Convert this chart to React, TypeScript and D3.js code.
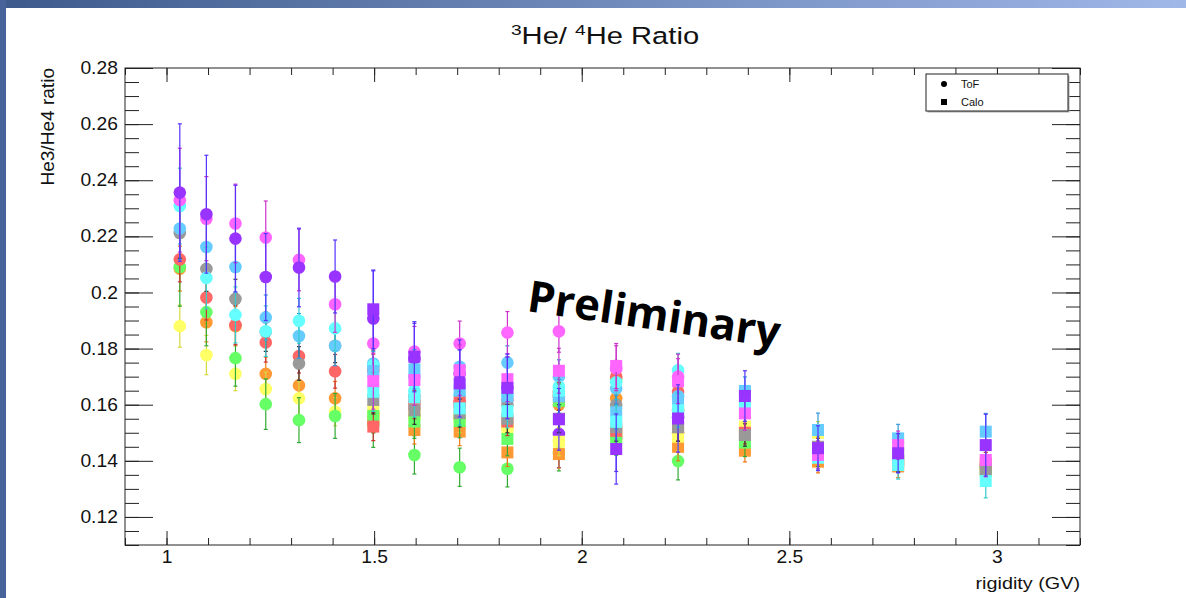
import React, { useEffect, useRef } from 'react';
import * as d3 from 'd3';

const width = 1186;
const height = 598;

// rigidity bin centres (GV)
const rigidity = [1.032, 1.096, 1.166, 1.239, 1.319, 1.406, 1.498, 1.597, 1.706, 1.821, 1.945, 2.083, 2.232, 2.393, 2.569, 2.762, 2.973];
const tofBins = rigidity.slice(0, 13);
const caloBins = rigidity.slice(6);

const xTicks = [1, 1.5, 2, 2.5, 3];
const xTickLabels = ['1', '1.5', '2', '2.5', '3'];
const yTicks = [0.12, 0.14, 0.16, 0.18, 0.2, 0.22, 0.24, 0.26, 0.28];
const yTickLabels = ['0.12', '0.14', '0.16', '0.18', '0.2', '0.22', '0.24', '0.26', '0.28'];

// ToF (circles)
const tofPurple = [0.2356, 0.2279, 0.2192, 0.2055, 0.2089, 0.2057, 0.1907, 0.1765, 0.1711, 0.166, 0.1496, 0.1482, 0.1555];
const tofMagenta = [0.2329, 0.2263, 0.2246, 0.2196, 0.2116, 0.1958, 0.1818, 0.1789, 0.1818, 0.1857, 0.1862, 0.173, 0.17];
const tofCyan = [0.2308, 0.2052, 0.192, 0.1862, 0.1899, 0.1872, 0.174, 0.165, 0.1634, 0.163, 0.1664, 0.168, 0.1723];
const tofLightBlue = [0.2228, 0.2162, 0.2091, 0.1911, 0.1845, 0.1809, 0.1747, 0.17, 0.1735, 0.175, 0.17, 0.1658, 0.163];
const tofGray = [0.2212, 0.2084, 0.1977, 0.186, 0.1747, 0.181, 0.1735, 0.163, 0.16, 0.16, 0.163, 0.16, 0.158];
const tofRed = [0.2118, 0.1982, 0.1884, 0.1822, 0.1773, 0.1719, 0.172, 0.161, 0.161, 0.1617, 0.1646, 0.17, 0.1646];
const tofOrange = [0.2085, 0.1894, 0.188, 0.171, 0.1669, 0.1623, 0.157, 0.156, 0.155, 0.152, 0.16, 0.1623, 0.15];
const tofYellow = [0.188, 0.1777, 0.171, 0.1656, 0.1623, 0.1575, 0.156, 0.155, 0.156, 0.152, 0.147, 0.1486, 0.15];
const tofGreen = [0.2091, 0.193, 0.1766, 0.1602, 0.1545, 0.156, 0.1528, 0.1421, 0.1377, 0.1372, 0.1429, 0.1688, 0.1399];

const tofPurpleErr = [0.0245, 0.021, 0.019, 0.0155, 0.014, 0.013, 0.017, 0.0125, 0.012, 0.012, 0.012, 0.012, 0.012];
const tofMagentaErr = [0.0185, 0.015, 0.014, 0.013, 0.011, 0.01, 0.01, 0.009, 0.008, 0.0075, 0.0075, 0.008, 0.008];
const tofCyanErr = [0.0135, 0.011, 0.01, 0.009, 0.008, 0.008, 0.008, 0.007, 0.007, 0.006, 0.006, 0.006, 0.006];
const tofLightBlueErr = [0.011, 0.01, 0.009, 0.008, 0.008, 0.007, 0.007, 0.007, 0.006, 0.006, 0.006, 0.006, 0.006];
const tofGrayErr = [0.009, 0.008, 0.007, 0.007, 0.006, 0.006, 0.006, 0.005, 0.005, 0.005, 0.005, 0.005, 0.005];
const tofRedErr = [0.008, 0.008, 0.007, 0.007, 0.006, 0.006, 0.006, 0.005, 0.005, 0.005, 0.005, 0.005, 0.005];
const tofOrangeErr = [0.008, 0.007, 0.007, 0.006, 0.006, 0.006, 0.005, 0.005, 0.005, 0.005, 0.005, 0.005, 0.005];
const tofYellowErr = [0.0075, 0.007, 0.006, 0.006, 0.006, 0.005, 0.005, 0.005, 0.005, 0.005, 0.005, 0.005, 0.005];
const tofGreenErr = [0.014, 0.012, 0.01, 0.009, 0.008, 0.008, 0.008, 0.0068, 0.0068, 0.0065, 0.0065, 0.007, 0.0067];

// Calo (squares)
const caloPurple = [0.194, 0.1771, 0.1676, 0.166, 0.1548, 0.1442, 0.1551, 0.1631, 0.1445, 0.1427, 0.1456];
const caloMagenta = [0.1684, 0.1688, 0.1723, 0.1691, 0.1721, 0.1738, 0.1684, 0.1569, 0.1421, 0.1456, 0.1403];
const caloCyan = [0.1646, 0.1626, 0.1587, 0.1577, 0.165, 0.1539, 0.158, 0.159, 0.1411, 0.1385, 0.1328];
const caloLightBlue = [0.172, 0.1726, 0.165, 0.163, 0.163, 0.1573, 0.1617, 0.1649, 0.151, 0.148, 0.1504];
const caloGray = [0.1617, 0.158, 0.157, 0.155, 0.155, 0.152, 0.152, 0.1492, 0.145, 0.14, 0.137];
const caloRed = [0.1522, 0.16, 0.161, 0.154, 0.163, 0.1507, 0.152, 0.15, 0.144, 0.14, 0.139];
const caloOrange = [0.155, 0.151, 0.1504, 0.143, 0.1424, 0.15, 0.145, 0.1436, 0.1397, 0.138, 0.137];
const caloYellow = [0.158, 0.1569, 0.155, 0.152, 0.1468, 0.149, 0.1486, 0.1522, 0.15, 0.145, 0.139];
const caloGreen = [0.156, 0.154, 0.1542, 0.1478, 0.1614, 0.148, 0.158, 0.1465, 0.143, 0.141, 0.1364];

const caloPurpleErr = [0.014, 0.0125, 0.012, 0.011, 0.011, 0.0125, 0.012, 0.009, 0.008, 0.007, 0.011];
const caloMagentaErr = [0.01, 0.009, 0.009, 0.008, 0.008, 0.008, 0.008, 0.006, 0.005, 0.005, 0.006];
const caloCyanErr = [0.007, 0.007, 0.006, 0.006, 0.006, 0.006, 0.006, 0.005, 0.004, 0.005, 0.006];
const caloLightBlueErr = [0.007, 0.007, 0.006, 0.006, 0.006, 0.006, 0.006, 0.005, 0.006, 0.005, 0.0065];
const caloGrayErr = [0.005, 0.005, 0.005, 0.005, 0.005, 0.005, 0.005, 0.004, 0.004, 0.004, 0.004];
const caloRedErr = [0.005, 0.005, 0.005, 0.005, 0.005, 0.005, 0.005, 0.004, 0.004, 0.004, 0.004];
const caloOrangeErr = [0.005, 0.005, 0.005, 0.005, 0.005, 0.005, 0.005, 0.004, 0.004, 0.004, 0.004];
const caloYellowErr = [0.005, 0.005, 0.005, 0.005, 0.005, 0.005, 0.005, 0.004, 0.004, 0.004, 0.004];
const caloGreenErr = [0.006, 0.006, 0.006, 0.006, 0.006, 0.006, 0.006, 0.005, 0.005, 0.005, 0.005];

// drawing order: last one ends on top
const series = [
  { fill: '#ff9933', bar: '#ee7711', tof: tofOrange, tofErr: tofOrangeErr, calo: caloOrange, caloErr: caloOrangeErr },
  { fill: '#ffff66', bar: '#d8d840', tof: tofYellow, tofErr: tofYellowErr, calo: caloYellow, caloErr: caloYellowErr },
  { fill: '#66ff66', bar: '#33aa33', tof: tofGreen, tofErr: tofGreenErr, calo: caloGreen, caloErr: caloGreenErr },
  { fill: '#ff6666', bar: '#cc3333', tof: tofRed, tofErr: tofRedErr, calo: caloRed, caloErr: caloRedErr },
  { fill: '#999999', bar: '#333333', tof: tofGray, tofErr: tofGrayErr, calo: caloGray, caloErr: caloGrayErr },
  { fill: '#66ccff', bar: '#3399dd', tof: tofLightBlue, tofErr: tofLightBlueErr, calo: caloLightBlue, caloErr: caloLightBlueErr },
  { fill: '#66ffff', bar: '#33cccc', tof: tofCyan, tofErr: tofCyanErr, calo: caloCyan, caloErr: caloCyanErr },
  { fill: '#ff66ff', bar: '#cc33cc', tof: tofMagenta, tofErr: tofMagentaErr, calo: caloMagenta, caloErr: caloMagentaErr },
  { fill: '#9933ff', bar: '#5533ff', tof: tofPurple, tofErr: tofPurpleErr, calo: caloPurple, caloErr: caloPurpleErr },
];

const FONT = '"Liberation Sans", Arial, Helvetica, sans-serif';

export default function App() {
  const ref = useRef<SVGSVGElement>(null);

  useEffect(() => {
    const svg = d3.select(ref.current);
    svg.selectAll('*').remove();

    const left = 125, right = 1080, top = 68, bottom = 545;

    const x = d3.scaleLinear().domain([0.9, 3.2]).range([left, right]);
    const y = d3.scaleLinear().domain([0.11, 0.28]).range([bottom, top]);

    // slide decoration
    const defs = svg.append('defs');
    const grad = defs.append('linearGradient').attr('id', 'bar').attr('x1', 0).attr('x2', 1).attr('y1', 0).attr('y2', 0);
    grad.append('stop').attr('offset', '0%').attr('stop-color', '#3e5a8c');
    grad.append('stop').attr('offset', '100%').attr('stop-color', '#9fb8e8');
    svg.append('rect').attr('width', width).attr('height', height).attr('fill', '#fff');
    svg.append('rect').attr('width', width).attr('height', 8).attr('fill', 'url(#bar)');
    svg.append('rect').attr('width', 6).attr('height', height).attr('fill', '#48639a');

    // axes with ROOT style ticks (inside, mirrored)
    const yMinor = d3.range(0.11, 0.2801, 0.005);
    const xMinor = d3.range(0.9, 3.2001, 0.1);

    const styleAxis = (g: any) => {
      g.select('.domain').remove();
      g.selectAll('line').attr('stroke', '#222').attr('stroke-width', 1);
      g.selectAll('text').attr('font-family', FONT).attr('font-size', 17.5).attr('fill', '#111')
        .attr('transform', 'scale(1.1,1)');
    };

    svg.append('g').attr('transform', `translate(${left},0)`)
      .call(d3.axisLeft(y).tickValues(yMinor).tickSize(-14).tickFormat(() => '')).call(styleAxis);
    svg.append('g').attr('transform', `translate(${left},0)`)
      .call(d3.axisLeft(y).tickValues(yTicks).tickSize(-28).tickPadding(6.5)
        .tickFormat((d, i) => yTickLabels[i])).call(styleAxis);
    svg.append('g').attr('transform', `translate(${right},0)`)
      .call(d3.axisRight(y).tickValues(yMinor).tickSize(-14).tickFormat(() => '')).call(styleAxis);
    svg.append('g').attr('transform', `translate(${right},0)`)
      .call(d3.axisRight(y).tickValues(yTicks).tickSize(-28).tickFormat(() => '')).call(styleAxis);

    svg.append('g').attr('transform', `translate(0,${bottom})`)
      .call(d3.axisBottom(x).tickValues(xMinor).tickSize(-7).tickFormat(() => '')).call(styleAxis);
    svg.append('g').attr('transform', `translate(0,${bottom})`)
      .call(d3.axisBottom(x).tickValues(xTicks).tickSize(-14).tickPadding(6)
        .tickFormat((d, i) => xTickLabels[i])).call(styleAxis);
    svg.append('g').attr('transform', `translate(0,${top})`)
      .call(d3.axisTop(x).tickValues(xMinor).tickSize(-7).tickFormat(() => '')).call(styleAxis);
    svg.append('g').attr('transform', `translate(0,${top})`)
      .call(d3.axisTop(x).tickValues(xTicks).tickSize(-14).tickFormat(() => '')).call(styleAxis);

    svg.append('rect')
      .attr('x', left).attr('y', top).attr('width', right - left).attr('height', bottom - top)
      .attr('fill', 'none').attr('stroke', '#222').attr('stroke-width', 1);

    // data
    const plot = svg.append('g');
    const drawErrors = (g: any, bins: number[], vals: number[], errs: number[], color: string) => {
      vals.forEach((v, i) => {
        const cx = x(bins[i]);
        const y0 = y(v - errs[i]);
        const y1 = y(v + errs[i]);
        g.append('line').attr('x1', cx).attr('x2', cx).attr('y1', y0).attr('y2', y1)
          .attr('stroke', color).attr('stroke-width', 1.2);
        [y0, y1].forEach((yy) => {
          g.append('line').attr('x1', cx - 2).attr('x2', cx + 2).attr('y1', yy).attr('y2', yy)
            .attr('stroke', color).attr('stroke-width', 1.2);
        });
      });
    };

    series.forEach((s) => {
      const g = plot.append('g');
      drawErrors(g, tofBins, s.tof, s.tofErr, s.bar);
      g.selectAll('circle.tof').data(s.tof).enter().append('circle')
        .attr('cx', (d: number, i: number) => x(tofBins[i]))
        .attr('cy', (d: number) => y(d))
        .attr('r', 6.3).attr('fill', s.fill);
    });
    series.forEach((s) => {
      const g = plot.append('g');
      drawErrors(g, caloBins, s.calo, s.caloErr, s.bar);
      g.selectAll('rect.calo').data(s.calo).enter().append('rect')
        .attr('x', (d: number, i: number) => x(caloBins[i]) - 6)
        .attr('y', (d: number) => y(d) - 6)
        .attr('width', 12).attr('height', 12).attr('fill', s.fill);
    });

    // title
    const title = svg.append('text').attr('transform', 'translate(605,43.5) scale(1.24,1)')
      .attr('text-anchor', 'middle')
      .attr('font-family', FONT).attr('font-size', 23.5).attr('fill', '#111');
    title.append('tspan').attr('font-size', 15.5).attr('dy', -9).text('3');
    title.append('tspan').attr('dy', 9).text('He/ ');
    title.append('tspan').attr('font-size', 15.5).attr('dy', -9).text('4');
    title.append('tspan').attr('dy', 9).text('He Ratio');

    // axis titles
    svg.append('text').attr('transform', `translate(53.5,${top}) rotate(-90) scale(1.06,1)`).attr('text-anchor', 'end')
      .attr('font-family', FONT).attr('font-size', 18).attr('fill', '#111').text('He3/He4 ratio');
    svg.append('text').attr('transform', `translate(${right},589) scale(1.2,1)`).attr('text-anchor', 'end')
      .attr('font-family', FONT).attr('font-size', 16.5).attr('fill', '#111').text('rigidity (GV)');

    // legend
    const lg = svg.append('g');
    lg.append('rect').attr('x', 927.5).attr('y', 75.5).attr('width', 142).attr('height', 37).attr('fill', '#aaa');
    lg.append('rect').attr('x', 926).attr('y', 74).attr('width', 142).attr('height', 37)
      .attr('fill', '#fff').attr('stroke', '#222').attr('stroke-width', 1);
    lg.append('circle').attr('cx', 944).attr('cy', 84).attr('r', 3).attr('fill', '#000');
    lg.append('rect').attr('x', 941).attr('y', 99).attr('width', 6).attr('height', 6).attr('fill', '#000');
    lg.append('text').attr('x', 961).attr('y', 88).attr('font-family', FONT).attr('font-size', 11).attr('fill', '#111').text('ToF');
    lg.append('text').attr('x', 961).attr('y', 106).attr('font-family', FONT).attr('font-size', 11).attr('fill', '#111').text('Calo');

    // watermark
    svg.append('text').attr('transform', 'translate(526,311) rotate(8.3)')
      .attr('font-family', '"Open Sans", sans-serif').attr('font-weight', 700).attr('font-size', 43.5)
      .attr('fill', '#000').text('Preliminary');
  }, []);

  return (
    <svg ref={ref} width={width} height={height}
      style={{ position: 'absolute', left: 0, top: 0, display: 'block' }} />
  );
}
